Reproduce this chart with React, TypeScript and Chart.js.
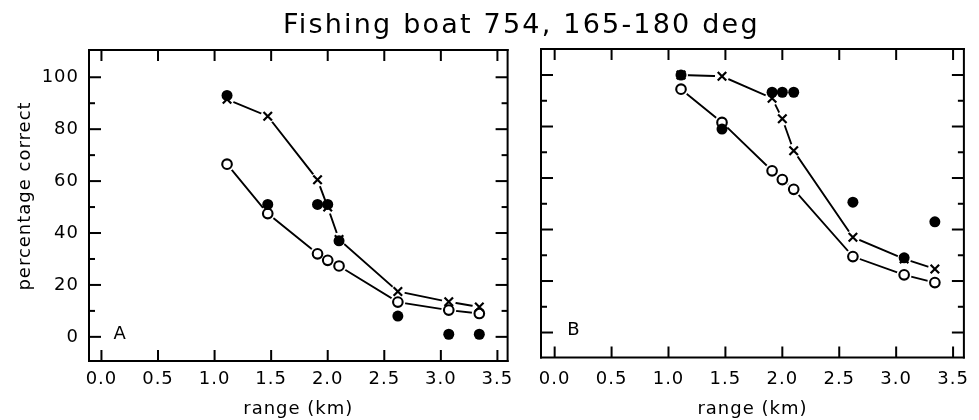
import React, { useEffect, useRef } from "react";
import { Chart, registerables } from "chart.js";

Chart.register(...registerables);

// ---------- data ----------
const TITLE = "Fishing boat 754, 165-180 deg";
const X_TITLE = "range (km)";
const Y_TITLE = "percentage correct";

const RANGE_KM = [1.11, 1.47, 1.91, 2.0, 2.1, 2.62, 3.07, 3.34];

const A_FILLED = [93, 51, 51, 51, 37, 8, 1, 1];
const A_CROSS = [91.5, 85, 60.5, 50, 37.5, 17.5, 13.5, 11.5];
const A_OPEN = [66.5, 47.5, 32, 29.5, 27.3, 13.4, 10.3, 9];

const B_FILLED = [100, 79, 93.3, 93.3, 93.3, 50.6, 29, 43];
const B_CROSS = [100, 99.5, 91, 83, 70.6, 37, 28.6, 24.7];
const B_OPEN = [94.5, 81.6, 62.8, 59.4, 55.6, 29.5, 22.4, 19.4];

const X_TICKS = [0, 0.5, 1, 1.5, 2, 2.5, 3, 3.5];
const Y_TICKS = [0, 20, 40, 60, 80, 100];
const Y_MINOR = [10, 30, 50, 70, 90];

const FONT = "'DejaVu Sans', 'Liberation Sans', sans-serif";

type PanelCfg = {
  key: string;
  letter: string;
  filled: number[];
  cross: number[];
  open: number[];
  left: number;
  width: number;
  yAxisWidth: number;
  padRight: number;
  padTop: number;
  xAxisHeight: number;
  xLabelPad: number;
  xMin: number;
  xMax: number;
  yMin: number;
  yMax: number;
  showYLabels: boolean;
  letterX: number;
  letterY: number;
};

const PANELS: PanelCfg[] = [
  {
    key: "A",
    letter: "A",
    filled: A_FILLED,
    cross: A_CROSS,
    open: A_OPEN,
    left: 0,
    width: 520,
    yAxisWidth: 89,
    padRight: 11,
    padTop: 50,
    xAxisHeight: 59,
    xLabelPad: 8,
    xMin: -0.11,
    xMax: 3.59,
    yMin: -9.3,
    yMax: 110.5,
    showYLabels: true,
    letterX: 0.165,
    letterY: 1.5,
  },
  {
    key: "B",
    letter: "B",
    filled: B_FILLED,
    cross: B_CROSS,
    open: B_OPEN,
    left: 520,
    width: 459,
    yAxisWidth: 21,
    padRight: 8,
    padTop: 49,
    xAxisHeight: 62.5,
    xLabelPad: 11.4,
    xMin: -0.12,
    xMax: 3.595,
    yMin: -9.7,
    yMax: 110.1,
    showYLabels: false,
    letterX: 0.17,
    letterY: 1.4,
  },
];

function pts(ys: number[]) {
  return RANGE_KM.map((x, i) => ({ x, y: ys[i] }));
}

function Panel({ cfg }: { cfg: PanelCfg }) {
  const ref = useRef<HTMLCanvasElement>(null);

  useEffect(() => {
    if (!ref.current) return;
    const ink = "#000";

    const framePlugin = {
      id: "frame" + cfg.key,
      beforeDraw(chart: any) {
        try {
          chart.ctx.letterSpacing = "1px";
        } catch (e) {}
      },
      afterDraw(chart: any) {
        const ctx = chart.ctx as CanvasRenderingContext2D;
        const ca = chart.chartArea;
        const x = chart.scales.x;
        const y = chart.scales.y;
        ctx.save();
        ctx.fillStyle = ink;
        const lw = 2;
        const tw = 2;
        // frame
        ctx.fillRect(ca.left - lw / 2, ca.top - lw / 2, ca.right - ca.left + lw, lw);
        ctx.fillRect(ca.left - lw / 2, ca.bottom - lw / 2, ca.right - ca.left + lw, lw);
        ctx.fillRect(ca.left - lw / 2, ca.top - lw / 2, lw, ca.bottom - ca.top + lw);
        ctx.fillRect(ca.right - lw / 2, ca.top - lw / 2, lw, ca.bottom - ca.top + lw);
        // x ticks (bottom and top, inward)
        for (const v of X_TICKS) {
          const px = x.getPixelForValue(v);
          ctx.fillRect(px - tw / 2, ca.bottom - 11, tw, 11);
          ctx.fillRect(px - tw / 2, ca.top, tw, 11);
        }
        // y ticks (left and right, inward)
        for (const v of Y_TICKS) {
          const py = y.getPixelForValue(v);
          ctx.fillRect(ca.left, py - tw / 2, 12, tw);
          ctx.fillRect(ca.right - 12, py - tw / 2, 12, tw);
        }
        for (const v of Y_MINOR) {
          const py = y.getPixelForValue(v);
          ctx.fillRect(ca.left, py - tw / 2, 6, tw);
          ctx.fillRect(ca.right - 6, py - tw / 2, 6, tw);
        }

        ctx.font = `18px ${FONT}`;
        ctx.textAlign = "center";
        ctx.textBaseline = "middle";
        ctx.fillText(
          cfg.letter,
          x.getPixelForValue(cfg.letterX),
          y.getPixelForValue(cfg.letterY) + 1
        );

        if (cfg.showYLabels) {
          ctx.translate(25, 196);
          ctx.rotate(-Math.PI / 2);
          ctx.fillText(Y_TITLE, 0, 0);
        }
        ctx.restore();
      },
    };

    const chart = new Chart(ref.current, {
      type: "scatter",
      data: {
        datasets: [
          {
            label: "cross line",
            data: pts(cfg.cross),
            showLine: true,
            borderColor: ink,
            borderWidth: 1.9,
            pointRadius: 0,
            order: 6,
          },
          {
            label: "open line",
            data: pts(cfg.open),
            showLine: true,
            borderColor: ink,
            borderWidth: 1.9,
            pointRadius: 0,
            order: 5,
          },
          {
            label: "cross halo",
            data: pts(cfg.cross),
            showLine: false,
            pointRadius: 7,
            pointBackgroundColor: "#fff",
            pointBorderWidth: 0,
            pointBorderColor: "#fff",
            order: 4,
          },
          {
            label: "open halo",
            data: pts(cfg.open),
            showLine: false,
            pointRadius: 7.5,
            pointBackgroundColor: "#fff",
            pointBorderWidth: 0,
            pointBorderColor: "#fff",
            order: 4,
          },
          {
            label: "open",
            data: pts(cfg.open),
            showLine: false,
            pointStyle: "circle",
            pointRadius: 4.8,
            pointBackgroundColor: "#fff",
            pointBorderColor: ink,
            pointBorderWidth: 2.1,
            order: 3,
          },
          {
            label: "cross",
            data: pts(cfg.cross),
            showLine: false,
            pointStyle: "crossRot",
            pointRadius: 6,
            pointBorderColor: ink,
            pointBorderWidth: 2.2,
            order: 2,
          },
          {
            label: "filled",
            data: pts(cfg.filled),
            showLine: false,
            pointStyle: "circle",
            pointRadius: 5.5,
            pointBackgroundColor: ink,
            pointBorderColor: ink,
            pointBorderWidth: 0,
            order: 1,
          },
        ],
      },
      options: {
        animation: false,
        responsive: true,
        maintainAspectRatio: false,
        events: [],
        layout: {
          padding: { left: 0, right: cfg.padRight, top: cfg.padTop, bottom: 0 },
        },
        plugins: {
          legend: { display: false },
          tooltip: { enabled: false },
          title: { display: false },
        },
        scales: {
          x: {
            type: "linear",
            min: cfg.xMin,
            max: cfg.xMax,
            grid: { display: false, drawTicks: false },
            border: { display: false },
            afterBuildTicks: (s: any) => {
              s.ticks = X_TICKS.map((v) => ({ value: v }));
            },
            afterFit: (s: any) => {
              s.height = cfg.xAxisHeight;
            },
            ticks: {
              color: "#000",
              font: { family: FONT, size: 18 },
              padding: cfg.xLabelPad,
              maxRotation: 0,
              autoSkip: false,
              callback: (v: any) => Number(v).toFixed(1),
            },
            title: {
              display: true,
              text: X_TITLE,
              color: "#000",
              font: { family: FONT, size: 18 },
              padding: 0,
            },
          },
          y: {
            type: "linear",
            min: cfg.yMin,
            max: cfg.yMax,
            grid: { display: false, drawTicks: false },
            border: { display: false },
            afterBuildTicks: (s: any) => {
              s.ticks = Y_TICKS.map((v) => ({ value: v }));
            },
            afterFit: (s: any) => {
              s.width = cfg.yAxisWidth;
            },
            ticks: {
              display: cfg.showYLabels,
              color: "#000",
              font: { family: FONT, size: 18 },
              padding: 10,
              autoSkip: false,
              callback: (v: any) => String(Math.round(Number(v))),
            },
          },
        },
      },
      plugins: [framePlugin as any],
    } as any);

    return () => chart.destroy();
  }, [cfg]);

  return (
    <div
      style={{
        position: "absolute",
        left: cfg.left,
        top: 0,
        width: cfg.width,
        height: 420,
      }}
    >
      <canvas ref={ref} />
    </div>
  );
}

export default function App() {
  return (
    <div
      style={{
        position: "absolute",
        left: 0,
        top: 0,
        width: 979,
        height: 420,
        background: "#fff",
        overflow: "hidden",
      }}
    >
      {PANELS.map((p) => (
        <Panel key={p.key} cfg={p} />
      ))}
      <div
        style={{
          position: "absolute",
          left: 283,
          top: 10,
          fontFamily: FONT,
          fontSize: 27,
          lineHeight: "27px",
          letterSpacing: "2.2px",
          whiteSpace: "nowrap",
          color: "#000",
        }}
      >
        {TITLE}
      </div>
    </div>
  );
}
